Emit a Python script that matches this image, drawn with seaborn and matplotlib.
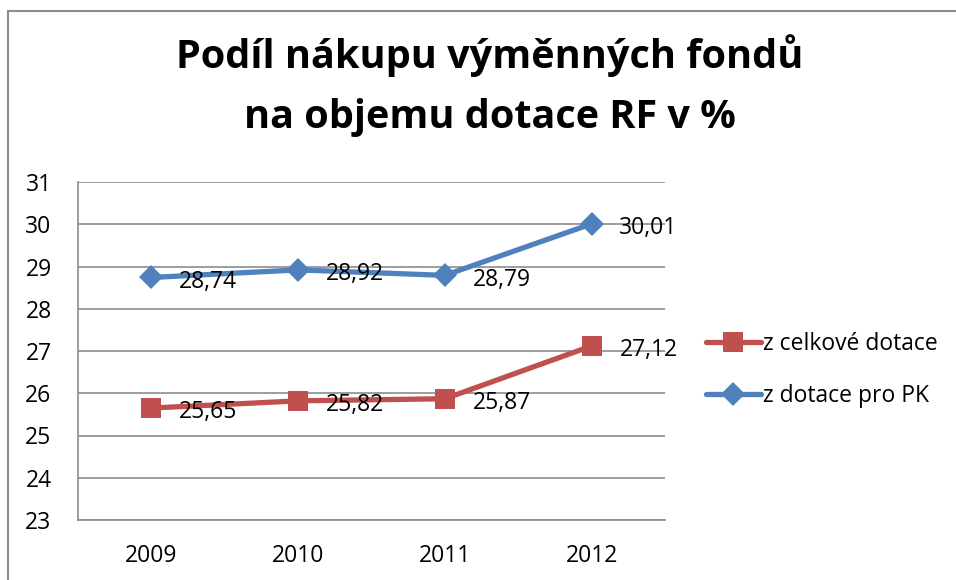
import matplotlib
matplotlib.use("Agg")
import matplotlib.pyplot as plt
import seaborn as sns
import pandas as pd
from matplotlib.patches import Rectangle
from matplotlib.lines import Line2D

years = ["2009", "2010", "2011", "2012"]
celkove = [25.65, 25.82, 25.87, 27.12]
pk = [28.74, 28.92, 28.79, 30.01]
series_names = ["z celkové dotace", "z dotace pro PK"]
title = "Podíl nákupu výměnných fondů\nna objemu dotace RF v %"

sns.set_style("white")
plt.rcParams['font.family'] = ['Open Sans', 'DejaVu Sans']
plt.rcParams['text.color'] = 'black'
plt.rcParams['xtick.color'] = 'black'
plt.rcParams['ytick.color'] = 'black'

fig = plt.figure(figsize=(9.56, 5.8), dpi=100)
ax = fig.add_axes([78/956, 1-520/580, (665-78)/956, (520-182)/580])

df = pd.DataFrame({
    "year": years * 2,
    "value": celkove + pk,
    "series": [series_names[0]] * 4 + [series_names[1]] * 4,
})
colors = {series_names[0]: "#C0504D", series_names[1]: "#4F81BD"}
markers = {series_names[0]: "s", series_names[1]: "D"}
msize = {series_names[0]: 14, series_names[1]: 12}
fs = 16.5

for name in series_names:
    sub = df[df.series == name]
    sns.lineplot(data=sub, x="year", y="value", ax=ax, color=colors[name],
                 marker=markers[name], markersize=msize[name], linewidth=3.8,
                 markeredgewidth=0, sort=False, legend=False)
    for i, (x, v) in enumerate(zip(sub.year, sub.value)):
        ax.annotate(f"{v:.2f}".replace(".", ","), (i, v), xytext=(20, -3),
                    textcoords="offset points", ha="left", va="center",
                    fontsize=fs, color="black")

ax.set_xlim(-0.5, 3.5)
ax.set_ylim(23, 31)
ax.set_yticks(range(23, 32))
ax.grid(axis="y", color="#8c8c8c", linewidth=1.2)
ax.set_axisbelow(True)
for s in ["top", "right"]:
    ax.spines[s].set_visible(False)
for s in ["left", "bottom"]:
    ax.spines[s].set_color("#8c8c8c")
    ax.spines[s].set_linewidth(1.2)
ax.tick_params(axis="y", labelsize=fs, length=0, pad=19)
ax.tick_params(axis="x", labelsize=fs, length=0, pad=17)
ax.set_xlabel("")
ax.set_ylabel("")

handles = [Line2D([], [], color=colors[n], marker=markers[n], markersize=msize[n],
                  linewidth=3.8, markeredgewidth=0) for n in series_names]
fig.legend(handles, series_names, loc="center left", bbox_to_anchor=(685/956, 1-370/580),
           frameon=False, fontsize=fs, handlelength=2.4, handletextpad=0.1,
           labelspacing=1.25)

fig.text(490/956, 1-86/580, title, ha="center", va="center", fontsize=28.5,
         fontweight="bold", linespacing=1.7)

fig.patches.append(Rectangle((8/956, -0.1), 1.2, 1 - 11/580 + 0.1,
                             transform=fig.transFigure, fill=False,
                             edgecolor="#8c8c8c", linewidth=1.5))

fig.savefig("out.png", dpi=100)
